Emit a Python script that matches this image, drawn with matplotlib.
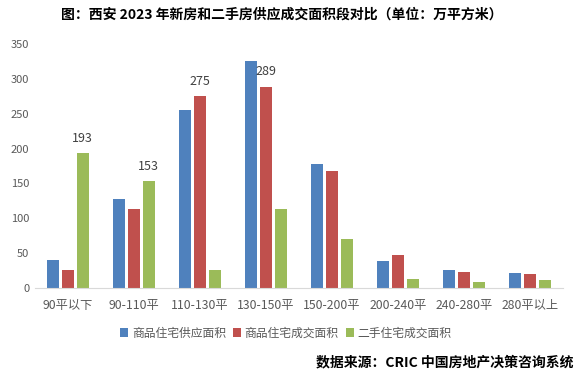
import numpy as np
import matplotlib
matplotlib.use("Agg")
import matplotlib.pyplot as plt

plt.rcParams['font.family'] = ['Noto Sans CJK SC', 'DejaVu Sans']

categories = ['90平以下', '90-110平', '110-130平', '130-150平', '150-200平', '200-240平', '240-280平', '280平以上']
supply_new = [40, 128, 255, 326, 178, 39, 26, 21]
deal_new = [26, 113, 275, 289, 168, 47, 23, 20]
deal_second = [193, 153, 26, 113, 70, 13, 9, 12]
series_names = ['商品住宅供应面积', '商品住宅成交面积', '二手住宅成交面积']
colors = ['#4F81BD', '#C0504D', '#9BBB59']
yticks = [0, 50, 100, 150, 200, 250, 300, 350]

# only a few bars carry a value label in the original
labels_shown = {(2, 0): 193, (2, 1): 153, (1, 2): 275, (1, 3): 289}

fig = plt.figure(figsize=(5.82, 3.76), dpi=100)
ax = fig.add_axes([0.06, 0.234, 0.907, 0.649])

x = np.arange(len(categories))
w = 0.18
offsets = [-0.225, 0, 0.225]
all_series = [supply_new, deal_new, deal_second]
for s, (vals, off) in enumerate(zip(all_series, offsets)):
    ax.bar(x + off, vals, width=w, color=colors[s], label=series_names[s])
    for i, v in enumerate(vals):
        if (s, i) in labels_shown:
            ax.annotate(str(labels_shown[(s, i)]), (x[i] + off, v), xytext=(0, 6),
                        textcoords='offset points', ha='center', va='bottom',
                        fontsize=9, color='#404040')

ax.set_xlim(-0.5, len(categories) - 0.5)
ax.set_ylim(0, 350)
ax.set_yticks(yticks)
ax.set_xticks(x)
ax.set_xticklabels(categories, fontsize=8.8)
ax.tick_params(axis='both', length=0, colors='#595959')
ax.tick_params(axis='y', labelsize=8, pad=4)
ax.tick_params(axis='x', pad=8)
for side in ['top', 'right', 'left']:
    ax.spines[side].set_visible(False)
ax.spines['bottom'].set_color('#D9D9D9')

fig.legend(loc='center', bbox_to_anchor=(0.491, 0.114), ncol=3, frameon=False,
           fontsize=8.5, handlelength=0.7, handleheight=0.7, handletextpad=0.3,
           columnspacing=0.6, labelcolor='#595959')

fig.text(0.484, 0.96, '图：西安 2023 年新房和二手房供应成交面积段对比（单位：万平方米）',
         ha='center', va='center', fontsize=10, fontweight='bold')
fig.text(0.986, 0.037, '数据来源：CRIC 中国房地产决策咨询系统',
         ha='right', va='center', fontsize=10, fontweight='bold')

fig.savefig('out.png', dpi=100)
